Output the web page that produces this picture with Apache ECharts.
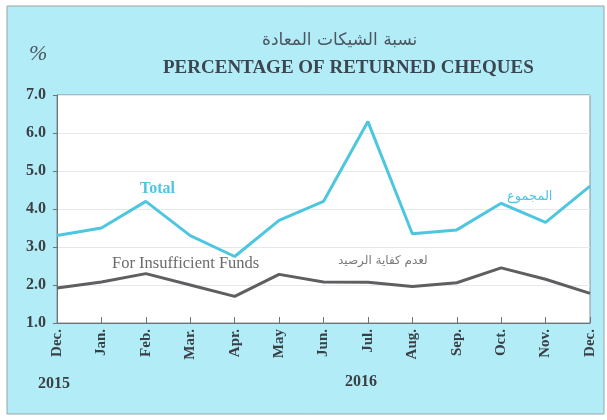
<!DOCTYPE html>
<html>
<head>
<meta charset="utf-8">
<script src="https://cdn.jsdelivr.net/npm/echarts@6/dist/echarts.min.js"></script>
<style>
  html, body { margin: 0; padding: 0; background: #ffffff; }
  #chart { width: 607px; height: 420px; }
</style>
</head>
<body>
<div id="chart"></div>
<script>
// months Dec 2015 .. Dec 2016
const months = ["Dec.", "Jan.", "Feb.", "Mar.", "Apr.", "May", "Jun.", "Jul.", "Aug.", "Sep.", "Oct.", "Nov.", "Dec."];
const totalValues = [3.3, 3.5, 4.2, 3.3, 2.75, 3.7, 4.2, 6.3, 3.35, 3.45, 4.15, 3.65, 4.6];
const fundsValues = [1.92, 2.08, 2.3, 2.0, 1.7, 2.28, 2.08, 2.07, 1.96, 2.06, 2.45, 2.15, 1.78];
const yTicks = [1, 2, 3, 4, 5, 6, 7];

const serif = "'Liberation Serif', 'DejaVu Serif', serif";
const bg = "#b2edf7";
const cyan = "#4ec6e0";
const grey = "#5f5f62";

let myChart = echarts.init(document.getElementById("chart"));
let option = {
  backgroundColor: "#ffffff",
  animation: false,
  grid: {
    left: 57,
    right: 17,
    top: 95,
    bottom: 97,
    show: true,
    backgroundColor: "#ffffff",
    borderColor: "#8a8f93",
    borderWidth: 1,
  },
  xAxis: {
    type: "category",
    data: months,
    boundaryGap: false,
    axisLine: { lineStyle: { color: "#6d7378", width: 1 } },
    axisTick: { show: true, inside: true, length: 6, lineStyle: { color: "#6d7378" } },
    axisLabel: {
      rotate: 90,
      margin: 6,
      fontFamily: serif,
      fontWeight: "bold",
      fontSize: 15,
      color: "#3a3f46",
    },
    splitLine: { show: false },
  },
  yAxis: {
    type: "value",
    min: yTicks[0],
    max: yTicks[yTicks.length - 1],
    interval: 1,
    axisLine: { show: true, lineStyle: { color: "#6d7378" } },
    axisTick: { show: true, length: 4, lineStyle: { color: "#6d7378" } },
    axisLabel: {
      margin: 11,
      fontFamily: serif,
      fontWeight: "bold",
      fontSize: 16,
      color: "#3a3f46",
      formatter: (v) => v.toFixed(1),
    },
    splitLine: { show: true, lineStyle: { color: "#e6e9eb", width: 1 } },
  },
  graphic: [
    {
      type: "rect",
      z: -10,
      silent: true,
      shape: { x: 7, y: 6, width: 597, height: 408 },
      style: { fill: bg, stroke: "#9aa3a8", lineWidth: 1 },
    },
    {
      type: "text",
      left: 29,
      top: 43,
      style: { text: "%", font: "italic 22px " + serif, fill: "#4a5560" },
    },
    {
      type: "text",
      left: 262,
      top: 32,
      style: { text: "نسبة الشيكات المعادة", font: "17px 'DejaVu Sans', sans-serif", fill: "#4a5560" },
    },
    {
      type: "text",
      left: 163,
      top: 59,
      style: { text: "PERCENTAGE OF RETURNED CHEQUES", font: "bold 19px " + serif, fill: "#3c4650" },
    },
    {
      type: "text",
      left: 140,
      top: 181,
      style: { text: "Total", font: "bold 16px " + serif, fill: cyan },
    },
    {
      type: "text",
      left: 112,
      top: 255,
      style: { text: "For Insufficient Funds", font: "16.5px " + serif, fill: "#6b6b6e" },
    },
    {
      type: "text",
      left: 507,
      top: 190,
      style: { text: "المجموع", font: "13px 'DejaVu Sans', sans-serif", fill: cyan },
    },
    {
      type: "text",
      left: 338,
      top: 255,
      style: { text: "لعدم كفاية الرصيد", font: "12px 'DejaVu Sans', sans-serif", fill: "#7a7a7d" },
    },
    {
      type: "text",
      left: 38,
      top: 376,
      style: { text: "2015", font: "bold 16px " + serif, fill: "#3a3f46" },
    },
    {
      type: "text",
      left: 345,
      top: 374,
      style: { text: "2016", font: "bold 16px " + serif, fill: "#3a3f46" },
    },
  ],
  series: [
    {
      name: "Total",
      type: "line",
      data: totalValues,
      symbol: "none",
      lineStyle: { color: cyan, width: 3 },
      z: 3,
    },
    {
      name: "For Insufficient Funds",
      type: "line",
      data: fundsValues,
      symbol: "none",
      lineStyle: { color: grey, width: 3 },
      z: 2,
    },
  ],
};
myChart.setOption(option);
</script>
</body>
</html>
